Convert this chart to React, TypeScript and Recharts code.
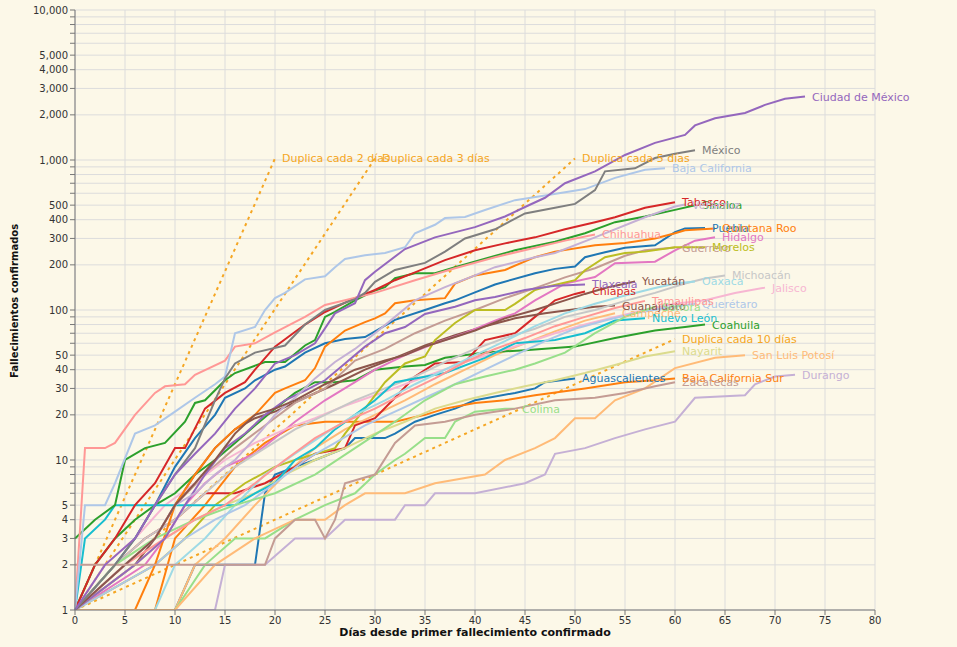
import React from 'react';
import { LineChart, Line, XAxis, YAxis, CartesianGrid } from 'recharts';

type Pt = [number, number];

// [día, fallecimientos acumulados]
const cdmx: Pt[] = [[0, 1], [3, 2], [6, 3], [8, 5], [10, 8], [12, 11], [14, 15], [16, 22], [18, 30], [20, 44], [22, 50], [24, 60], [26, 95], [28, 111], [29, 158], [30, 180], [33, 255], [36, 305], [40, 357], [43, 420], [45, 486], [47, 560], [49, 700], [52, 840], [55, 1080], [58, 1300], [61, 1470], [62, 1700], [64, 1900], [67, 2060], [69, 2330], [71, 2560], [73, 2650]];
const edomex: Pt[] = [[0, 1], [4, 2], [6, 3], [8, 5], [10, 8], [12, 12], [14, 25], [15, 35], [16, 44], [18, 52], [21, 58], [23, 80], [25, 100], [28, 118], [29, 130], [30, 154], [32, 185], [35, 206], [37, 245], [39, 300], [42, 345], [45, 440], [48, 480], [50, 510], [52, 630], [53, 840], [56, 880], [58, 1030], [60, 1100], [62, 1160]];
const bc: Pt[] = [[0, 1], [1, 5], [3, 5], [4, 7], [6, 15], [8, 17], [10, 21], [12, 26], [14, 32], [15, 36], [16, 70], [18, 77], [19, 100], [20, 120], [21, 130], [23, 160], [25, 168], [26, 193], [27, 219], [29, 232], [31, 240], [33, 262], [34, 325], [36, 370], [37, 410], [39, 417], [41, 464], [44, 540], [47, 580], [51, 640], [54, 760], [57, 860], [59, 880]];
const chihuahua: Pt[] = [[0, 1], [1, 12], [3, 12], [4, 13], [6, 20], [8, 28], [9, 31], [11, 32], [12, 37], [15, 46], [16, 57], [18, 60], [20, 71], [23, 90], [25, 108], [27, 116], [30, 130], [34, 158], [38, 190], [42, 225], [46, 260], [49, 290], [52, 319]];
const tabasco: Pt[] = [[0, 1], [2, 2], [4, 3], [6, 5], [8, 7], [10, 12], [11, 12], [13, 22], [15, 28], [17, 33], [18, 40], [20, 57], [23, 80], [25, 97], [28, 120], [30, 136], [32, 158], [34, 178], [37, 215], [40, 250], [43, 278], [46, 305], [49, 345], [52, 385], [54, 415], [57, 480], [60, 522]];
const sinaloa: Pt[] = [[0, 3], [2, 4], [4, 5], [5, 10], [7, 12], [9, 13], [11, 18], [12, 24], [13, 25], [15, 34], [16, 38], [19, 45], [21, 45], [23, 58], [24, 63], [25, 90], [26, 97], [28, 116], [30, 135], [31, 142], [32, 163], [34, 176], [36, 176], [38, 193], [41, 220], [44, 250], [48, 285], [51, 325], [54, 385], [57, 420], [60, 465], [62, 499]];
const veracruz: Pt[] = [[0, 1], [5, 2], [8, 3], [10, 5], [12, 6], [14, 8], [16, 10], [18, 14], [20, 20], [22, 26], [24, 35], [26, 45], [28, 55], [30, 70], [32, 90], [34, 116], [37, 142], [40, 170], [42, 193], [46, 225], [48, 240], [52, 305], [57, 415], [60, 490], [61, 505]];
const puebla: Pt[] = [[0, 1], [4, 2], [6, 3], [8, 5], [10, 9], [12, 14], [14, 20], [15, 26], [17, 30], [18, 34], [20, 40], [21, 42], [23, 52], [25, 60], [27, 64], [29, 66], [30, 72], [32, 86], [35, 100], [37, 111], [38, 116], [40, 131], [42, 148], [46, 176], [48, 188], [50, 195], [51, 225], [53, 243], [55, 260], [58, 270], [60, 330], [61, 350], [63, 352]];
const qroo: Pt[] = [[0, 1], [6, 1], [8, 2], [10, 5], [12, 8], [14, 12], [16, 16], [18, 20], [20, 28], [21, 30], [23, 34], [24, 41], [25, 57], [27, 73], [29, 83], [30, 88], [31, 95], [32, 111], [34, 116], [37, 120], [38, 150], [40, 170], [43, 185], [46, 225], [48, 245], [52, 270], [55, 280], [58, 300], [60, 325], [61, 340], [64, 350]];
const hidalgo: Pt[] = [[0, 1], [7, 2], [9, 3], [11, 5], [13, 7], [15, 9], [18, 11], [20, 14], [22, 18], [25, 25], [28, 33], [30, 40], [33, 50], [36, 60], [39, 70], [42, 85], [44, 95], [46, 116], [49, 150], [52, 166], [54, 205], [58, 210], [60, 250], [62, 290], [64, 305]];
const guerrero: Pt[] = [[0, 1], [5, 2], [8, 3], [10, 5], [13, 8], [16, 12], [19, 17], [22, 24], [25, 30], [28, 46], [31, 55], [34, 70], [37, 85], [40, 100], [43, 120], [46, 140], [49, 165], [52, 190], [55, 230], [57, 250], [60, 261]];
const morelos: Pt[] = [[0, 1], [8, 2], [11, 3], [14, 5], [17, 7], [20, 9], [22, 10], [26, 12], [27, 15], [29, 22], [31, 33], [33, 44], [35, 49], [36, 63], [38, 82], [40, 100], [43, 100], [44, 110], [46, 136], [47, 142], [50, 158], [51, 184], [53, 225], [55, 240], [57, 245], [60, 262], [63, 262]];
const tlaxcala: Pt[] = [[0, 1], [6, 2], [9, 3], [11, 5], [13, 8], [15, 12], [17, 15], [19, 20], [21, 25], [23, 29], [25, 34], [27, 44], [29, 57], [31, 70], [33, 77], [35, 94], [38, 105], [40, 116], [42, 122], [45, 136], [48, 145], [51, 148]];
const yucatan: Pt[] = [[0, 1], [5, 2], [8, 3], [10, 5], [12, 7], [14, 10], [16, 15], [18, 20], [20, 22], [22, 25], [25, 32], [28, 40], [31, 46], [33, 50], [35, 57], [38, 66], [40, 73], [43, 88], [46, 100], [49, 116], [51, 128], [53, 140], [56, 155]];
const guanajuato: Pt[] = [[0, 1], [6, 2], [8, 3], [10, 5], [12, 8], [14, 12], [16, 16], [18, 19], [20, 21], [23, 26], [26, 32], [29, 40], [32, 48], [35, 58], [38, 68], [41, 78], [44, 88], [47, 95], [50, 101], [52, 105], [54, 107]];
const chiapas: Pt[] = [[0, 1], [4, 2], [7, 3], [10, 4], [13, 6], [16, 6], [19, 7], [22, 9], [24, 11], [27, 12], [28, 17], [30, 19], [32, 26], [34, 36], [36, 44], [39, 45], [41, 63], [44, 70], [46, 90], [48, 116], [50, 128], [51, 133]];
const oaxaca: Pt[] = [[0, 1], [8, 1], [10, 2], [13, 3], [16, 5], [19, 8], [22, 11], [25, 15], [28, 20], [31, 25], [34, 32], [37, 40], [40, 50], [43, 62], [46, 78], [49, 95], [52, 110], [55, 125], [58, 140], [60, 150], [62, 155]];
const michoacan: Pt[] = [[0, 1], [4, 2], [7, 3], [10, 4], [13, 6], [16, 9], [19, 12], [22, 16], [25, 20], [28, 25], [31, 30], [34, 36], [37, 45], [40, 55], [43, 65], [46, 75], [49, 90], [52, 100], [55, 115], [58, 130], [61, 150], [63, 162], [65, 170]];
const jalisco: Pt[] = [[0, 1], [3, 2], [6, 3], [9, 5], [12, 7], [15, 10], [18, 13], [21, 16], [24, 19], [27, 23], [30, 27], [33, 32], [36, 38], [39, 45], [42, 52], [45, 60], [48, 70], [51, 80], [54, 90], [57, 100], [60, 110], [63, 116], [66, 130], [69, 141]];
const tamaulipas: Pt[] = [[0, 1], [5, 2], [9, 3], [12, 4], [15, 5], [18, 7], [21, 10], [24, 14], [27, 18], [30, 22], [33, 28], [36, 35], [39, 45], [42, 55], [45, 65], [48, 78], [51, 90], [54, 103], [57, 115]];
const queretaro: Pt[] = [[0, 1], [8, 2], [11, 3], [14, 4], [17, 5], [20, 7], [23, 10], [26, 13], [29, 17], [32, 21], [35, 26], [38, 32], [41, 40], [44, 50], [47, 62], [50, 75], [53, 85], [56, 95], [59, 103], [62, 110]];
const campeche: Pt[] = [[0, 1], [10, 1], [12, 2], [15, 3], [18, 5], [21, 8], [24, 12], [27, 16], [30, 20], [33, 25], [36, 32], [39, 40], [42, 50], [45, 60], [48, 72], [51, 85], [54, 95]];
const nuevoLeon: Pt[] = [[0, 1], [1, 3], [3, 4], [4, 5], [8, 5], [12, 5], [16, 5], [18, 6], [20, 7], [22, 10], [24, 12], [26, 16], [28, 20], [30, 25], [32, 33], [37, 38], [41, 48], [44, 60], [48, 63], [51, 70], [54, 85], [57, 88]];
const coahuila: Pt[] = [[0, 1], [2, 2], [4, 3], [6, 4], [8, 5], [10, 6], [12, 8], [14, 10], [16, 13], [18, 17], [20, 22], [22, 28], [24, 33], [26, 33], [28, 34], [30, 40], [33, 42], [35, 43], [37, 48], [41, 52], [45, 54], [50, 57], [54, 65], [58, 73], [61, 77], [63, 80]];
const nayarit: Pt[] = [[0, 1], [6, 2], [9, 3], [12, 4], [15, 5], [18, 6], [21, 8], [24, 10], [27, 12], [30, 15], [33, 18], [36, 22], [39, 25], [42, 28], [45, 31], [48, 34], [51, 38], [54, 43], [57, 49], [60, 53]];
const slp: Pt[] = [[0, 1], [10, 1], [14, 2], [18, 3], [22, 4], [25, 4], [27, 5], [29, 6], [33, 6], [36, 7], [41, 8], [43, 10], [46, 12], [48, 14], [50, 19], [52, 19], [54, 25], [57, 30], [60, 41], [64, 48], [67, 50]];
const durango: Pt[] = [[0, 1], [14, 1], [15, 2], [19, 2], [22, 3], [25, 3], [27, 4], [32, 4], [33, 5], [35, 5], [36, 6], [40, 6], [45, 7], [47, 8], [48, 11], [51, 12], [54, 14], [57, 16], [60, 18], [62, 26], [67, 27], [68, 32], [70, 36], [72, 37]];
const aguascalientes: Pt[] = [[0, 1], [10, 1], [12, 2], [18, 2], [19, 6], [20, 8], [22, 9], [24, 10], [27, 12], [28, 14], [31, 14], [32, 15], [34, 18], [36, 20], [38, 22], [40, 25], [44, 28], [46, 30], [47, 33], [50, 35]];
const bcs: Pt[] = [[0, 1], [8, 1], [10, 3], [13, 5], [16, 9], [19, 13], [22, 17], [25, 18], [29, 18], [32, 18], [35, 20], [37, 22], [40, 24], [43, 25], [46, 27], [51, 30], [55, 33], [58, 34], [60, 35]];
const zacatecas: Pt[] = [[0, 2], [19, 2], [20, 3], [22, 4], [24, 4], [25, 3], [26, 4], [27, 7], [30, 8], [32, 13], [34, 17], [37, 18], [40, 20], [44, 22], [48, 25], [52, 26], [55, 28], [58, 31], [60, 33]];
const colima: Pt[] = [[0, 1], [10, 1], [13, 2], [16, 3], [19, 3], [22, 4], [25, 5], [28, 6], [30, 8], [32, 10], [33, 11], [35, 14], [37, 14], [38, 18], [40, 21], [43, 22], [44, 22]];
const sonora: Pt[] = [[0, 1], [4, 2], [8, 3], [12, 4], [16, 5], [20, 6], [24, 8], [28, 12], [32, 18], [35, 25], [38, 32], [41, 36], [44, 40], [46, 44], [49, 52], [52, 70], [55, 90], [58, 105]];

// líneas de referencia de duplicación
const dup2: Pt[] = [[0, 1], [20, 1024]];
const dup3: Pt[] = [[0, 1], [30, 1024]];
const dup5: Pt[] = [[0, 1], [50, 1024]];
const dup10: Pt[] = [[0, 1], [60, 64]];

const xTicks = [0, 5, 10, 15, 20, 25, 30, 35, 40, 45, 50, 55, 60, 65, 70, 75, 80];
const yTicks = [1, 2, 3, 4, 5, 6, 7, 8, 9, 10, 20, 30, 40, 50, 60, 70, 80, 90, 100, 200, 300, 400, 500, 600, 700, 800, 900, 1000, 2000, 3000, 4000, 5000, 6000, 7000, 8000, 9000, 10000];
const yLabelled = [1, 2, 3, 4, 5, 10, 20, 30, 40, 50, 100, 200, 300, 400, 500, 1000, 2000, 3000, 4000, 5000, 10000];

const states = [
    { name: 'Aguascalientes', color: '#1f77b4', data: aguascalientes },
    { name: 'Baja California Sur', color: '#ff7f0e', data: bcs },
    { name: 'Campeche', color: '#ffbb78', data: campeche },
    { name: 'Coahuila', color: '#2ca02c', data: coahuila },
    { name: 'Colima', color: '#98df8a', data: colima },
    { name: 'Chiapas', color: '#d62728', data: chiapas },
    { name: 'Durango', color: '#c5b0d5', data: durango },
    { name: 'Guanajuato', color: '#8c564b', data: guanajuato },
    { name: 'Guerrero', color: '#c49c94', data: guerrero },
    { name: 'Hidalgo', color: '#e377c2', data: hidalgo },
    { name: 'Jalisco', color: '#f7b6d2', data: jalisco },
    { name: 'Michoacán', color: '#c7c7c7', data: michoacan },
    { name: 'Morelos', color: '#bcbd22', data: morelos },
    { name: 'Nayarit', color: '#dbdb8d', data: nayarit },
    { name: 'Nuevo León', color: '#17becf', data: nuevoLeon },
    { name: 'Oaxaca', color: '#9edae5', data: oaxaca },
    { name: 'Puebla', color: '#1f77b4', data: puebla },
    { name: 'Querétaro', color: '#aec7e8', data: queretaro },
    { name: 'Quintana Roo', color: '#ff7f0e', data: qroo },
    { name: 'San Luis Potosí', color: '#ffbb78', data: slp },
    { name: 'Sonora', color: '#98df8a', data: sonora },
    { name: 'Tamaulipas', color: '#ff9896', data: tamaulipas },
    { name: 'Sinaloa', color: '#2ca02c', data: sinaloa },
    { name: 'Tabasco', color: '#d62728', data: tabasco },
    { name: 'Tlaxcala', color: '#9467bd', data: tlaxcala },
    { name: 'Veracruz', color: '#c5b0d5', data: veracruz },
    { name: 'Yucatán', color: '#8c564b', data: yucatan },
    { name: 'Zacatecas', color: '#c49c94', data: zacatecas },
    { name: 'Chihuahua', color: '#ff9896', data: chihuahua },
    { name: 'Baja California', color: '#aec7e8', data: bc },
    { name: 'México', color: '#7f7f7f', data: edomex },
    { name: 'Ciudad de México', color: '#9467bd', data: cdmx },
];

const doubling = [
    { name: 'Duplica cada 2 días', data: dup2 },
    { name: 'Duplica cada 3 días', data: dup3 },
    { name: 'Duplica cada 5 días', data: dup5 },
    { name: 'Duplica cada 10 días', data: dup10 },
];

const FONT = '"DejaVu Sans", Verdana, sans-serif';
const BG = '#fcf8e8';
const DUP_COLOR = '#f5a623';

const toRows = (pts: Pt[]) => pts.map(([day, v]) => ({ day, v }));

const endLabel = (name: string, color: string, last: number) => (props: any) => {
    if (props.index !== last) return <g />;
    return (
        <text x={props.x + 7} y={props.y} dy={4} fill={color} fontSize={11} fontFamily={FONT}>
            {name}
        </text>
    );
};

const fmtY = (v: number) => (yLabelled.includes(v) ? v.toLocaleString('en-US') : '');

export default function App() {
    return (
        <div style={{ position: 'absolute', left: 0, top: 0, width: 957, height: 647, background: BG, fontFamily: FONT }}>
            <LineChart width={957} height={647} margin={{ top: 10, right: 82, bottom: 7, left: 0 }}>
                <CartesianGrid stroke="#dcdcdc" strokeWidth={1} />
                <XAxis
                    type="number"
                    dataKey="day"
                    domain={[0, 80]}
                    ticks={xTicks}
                    height={30}
                    stroke="#777"
                    tickSize={5}
                    tick={{ fontSize: 10, fill: '#333', fontFamily: FONT }}
                    allowDuplicatedCategory={false}
                />
                <YAxis
                    type="number"
                    scale="log"
                    domain={[1, 10000]}
                    ticks={yTicks}
                    tickFormatter={fmtY}
                    interval={0}
                    width={75}
                    stroke="#777"
                    tickSize={5}
                    allowDataOverflow
                    tick={{ fontSize: 10, fill: '#333', fontFamily: FONT }}
                />
                {doubling.map((d) => (
                    <Line
                        key={d.name}
                        data={toRows(d.data)}
                        dataKey="v"
                        type="linear"
                        stroke={DUP_COLOR}
                        strokeWidth={2}
                        strokeDasharray="3 4"
                        dot={false}
                        isAnimationActive={false}
                        label={endLabel(d.name, DUP_COLOR, d.data.length - 1)}
                    />
                ))}
                {states.map((s) => (
                    <Line
                        key={s.name}
                        data={toRows(s.data)}
                        dataKey="v"
                        type="linear"
                        stroke={s.color}
                        strokeWidth={2}
                        dot={false}
                        isAnimationActive={false}
                        label={endLabel(s.name, s.color, s.data.length - 1)}
                    />
                ))}
            </LineChart>
            <div style={{ position: 'absolute', left: 0, top: 626, width: 950, textAlign: 'center', fontSize: 11, fontWeight: 'bold', color: '#111' }}>
                Días desde primer fallecimiento confirmado
            </div>
            <div
                style={{
                    position: 'absolute',
                    left: 14,
                    top: 301,
                    transform: 'translate(-50%, -50%) rotate(-90deg)',
                    whiteSpace: 'nowrap',
                    fontSize: 10,
                    fontWeight: 'bold',
                    color: '#111',
                }}
            >
                Fallecimientos confirmados
            </div>
        </div>
    );
}
